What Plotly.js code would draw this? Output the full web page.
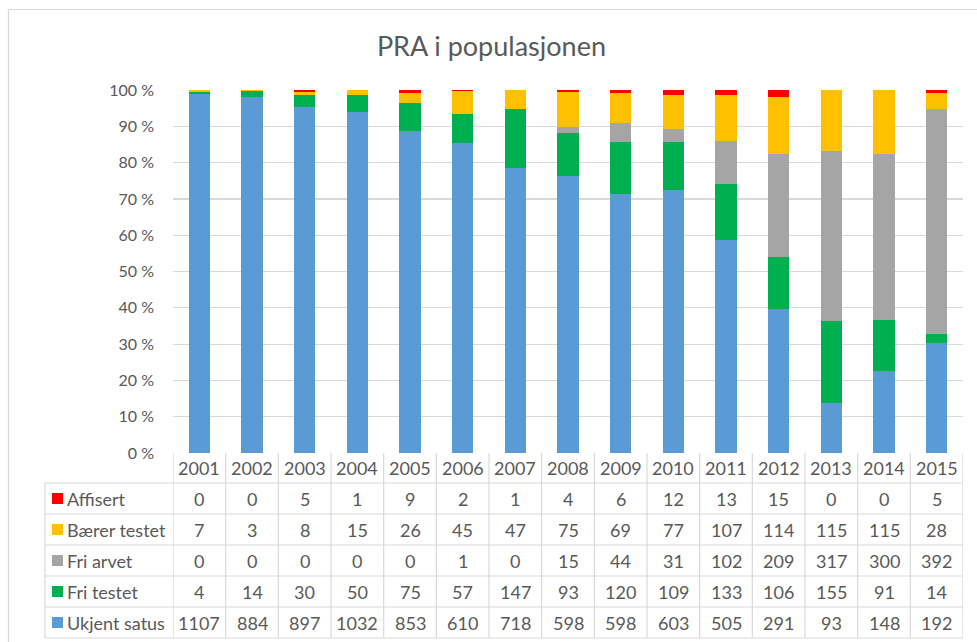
<!DOCTYPE html>
<html>
<head>
<meta charset="utf-8">
<script src="https://cdn.plot.ly/plotly-3.0.1.min.js"></script>
<style>html,body{margin:0;padding:0;background:#fff;}#chart{width:977px;height:642px;}</style>
</head>
<body>
<div id="chart"></div>
<script>
const years = ["2001","2002","2003","2004","2005","2006","2007","2008","2009","2010","2011","2012","2013","2014","2015"];
const affisert    = [0,0,5,1,9,2,1,4,6,12,13,15,0,0,5];
const baererTestet= [7,3,8,15,26,45,47,75,69,77,107,114,115,115,28];
const friArvet    = [0,0,0,0,0,1,0,15,44,31,102,209,317,300,392];
const friTestet   = [4,14,30,50,75,57,147,93,120,109,133,106,155,91,14];
const ukjentSatus = [1107,884,897,1032,853,610,718,598,598,603,505,291,93,148,192];

const seriesNames = ["Ukjent satus","Fri testet","Fri arvet","Bærer testet","Affisert"];
const seriesVals  = [ukjentSatus, friTestet, friArvet, baererTestet, affisert];
const seriesColors= ["#5B9BD5","#00B050","#A5A5A5","#FFC000","#FF0000"];

// layout geometry (pixels)
const W = 977, H = 642;
const ML = 173, MR = 14, MT = 90, MB = 189;
const PW = W - ML - MR, PH = H - MT - MB;
const px = x => (x - ML) / PW;           // pixel -> paper x
const py = y => (H - MB - y) / PH;       // pixel -> paper y

const traces = seriesNames.map((n, i) => ({
  type: "bar", name: n, x: years, y: seriesVals[i],
  marker: {color: seriesColors[i], line: {width: 0}},
  hoverinfo: "x+y+name"
}));

const gridCol = "#d9d9d9";
const textCol = "#595959";
const font = "Lato, 'Open Sans', sans-serif";
const tableFont = {family: font, size: 18, color: textCol};

const shapes = [];
const annotations = [];

// table rows (top to bottom)
const tableRows = [4,3,2,1,0]; // indices into series arrays
const headerTop = 453, rowTop = 483, rowH = 31;
const tableLeft = 45;
const tableBottom = rowTop + rowH * tableRows.length;

// horizontal lines
for (let r = 0; r <= tableRows.length; r++) {
  const y = rowTop + r * rowH;
  shapes.push({type:"line", xref:"paper", yref:"paper", x0:px(tableLeft), x1:1, y0:py(y), y1:py(y), line:{color:gridCol, width:1.2}});
}
// vertical lines
shapes.push({type:"line", xref:"paper", yref:"paper", x0:px(tableLeft), x1:px(tableLeft), y0:py(rowTop), y1:py(tableBottom), line:{color:gridCol, width:1.2}});
for (let c = 0; c <= years.length; c++) {
  shapes.push({type:"line", xref:"x", yref:"paper", x0:c-0.5, x1:c-0.5, y0:py(headerTop), y1:py(tableBottom), line:{color:gridCol, width:1.2}});
}
// header years
years.forEach((yr, c) => {
  annotations.push({xref:"x", yref:"paper", x:c, y:py(headerTop + 15), text:yr, showarrow:false,
    xanchor:"center", yanchor:"middle", font:tableFont});
});
// row labels, squares and values
tableRows.forEach((si, r) => {
  const cy = rowTop + r * rowH + rowH / 2;
  shapes.push({type:"rect", xref:"paper", yref:"paper", x0:px(52), x1:px(63), y0:py(cy-5.5), y1:py(cy+5.5),
    fillcolor:seriesColors[si], line:{width:0}});
  annotations.push({xref:"paper", yref:"paper", x:px(65), y:py(cy), text:seriesNames[si], showarrow:false,
    xanchor:"left", yanchor:"middle", font:tableFont});
  years.forEach((yr, c) => {
    annotations.push({xref:"x", yref:"paper", x:c, y:py(cy), text:String(seriesVals[si][c]), showarrow:false,
      xanchor:"center", yanchor:"middle", font:tableFont});
  });
});
// outer chart border (top and left)
shapes.push({type:"line", xref:"paper", yref:"paper", x0:px(8.5), x1:px(W+5), y0:py(9.5), y1:py(9.5), line:{color:gridCol, width:1.2}});
shapes.push({type:"line", xref:"paper", yref:"paper", x0:px(8.5), x1:px(8.5), y0:py(9.5), y1:py(H+5), line:{color:gridCol, width:1.2}});

const layout = {
  width: W, height: H,
  margin: {l: ML, r: MR, t: MT, b: MB},
  paper_bgcolor: "#fff", plot_bgcolor: "#fff",
  barmode: "stack", barnorm: "percent", bargap: 0.6,
  showlegend: false,
  title: {text: "PRA i populasjonen", x: 0.503, xref: "container", y: 0.927, yref: "container",
    xanchor: "center", yanchor: "middle", font: {family: font, size: 27, color: textCol}},
  xaxis: {type: "category", showticklabels: false, showgrid: false, zeroline: false, showline: false,
    ticks: "", range: [-0.5, years.length - 0.5], fixedrange: true},
  yaxis: {range: [0, 100], dtick: 10, ticksuffix: " %", showgrid: true, gridcolor: gridCol, gridwidth: 1.2,
    zeroline: false, showline: false, ticks: "", ticklabelstandoff: 18,
    tickfont: {family: font, size: 16, color: textCol}, fixedrange: true},
  shapes: shapes,
  annotations: annotations
};

Plotly.newPlot("chart", traces, layout, {displayModeBar: false, staticPlot: true});
</script>
</body>
</html>
